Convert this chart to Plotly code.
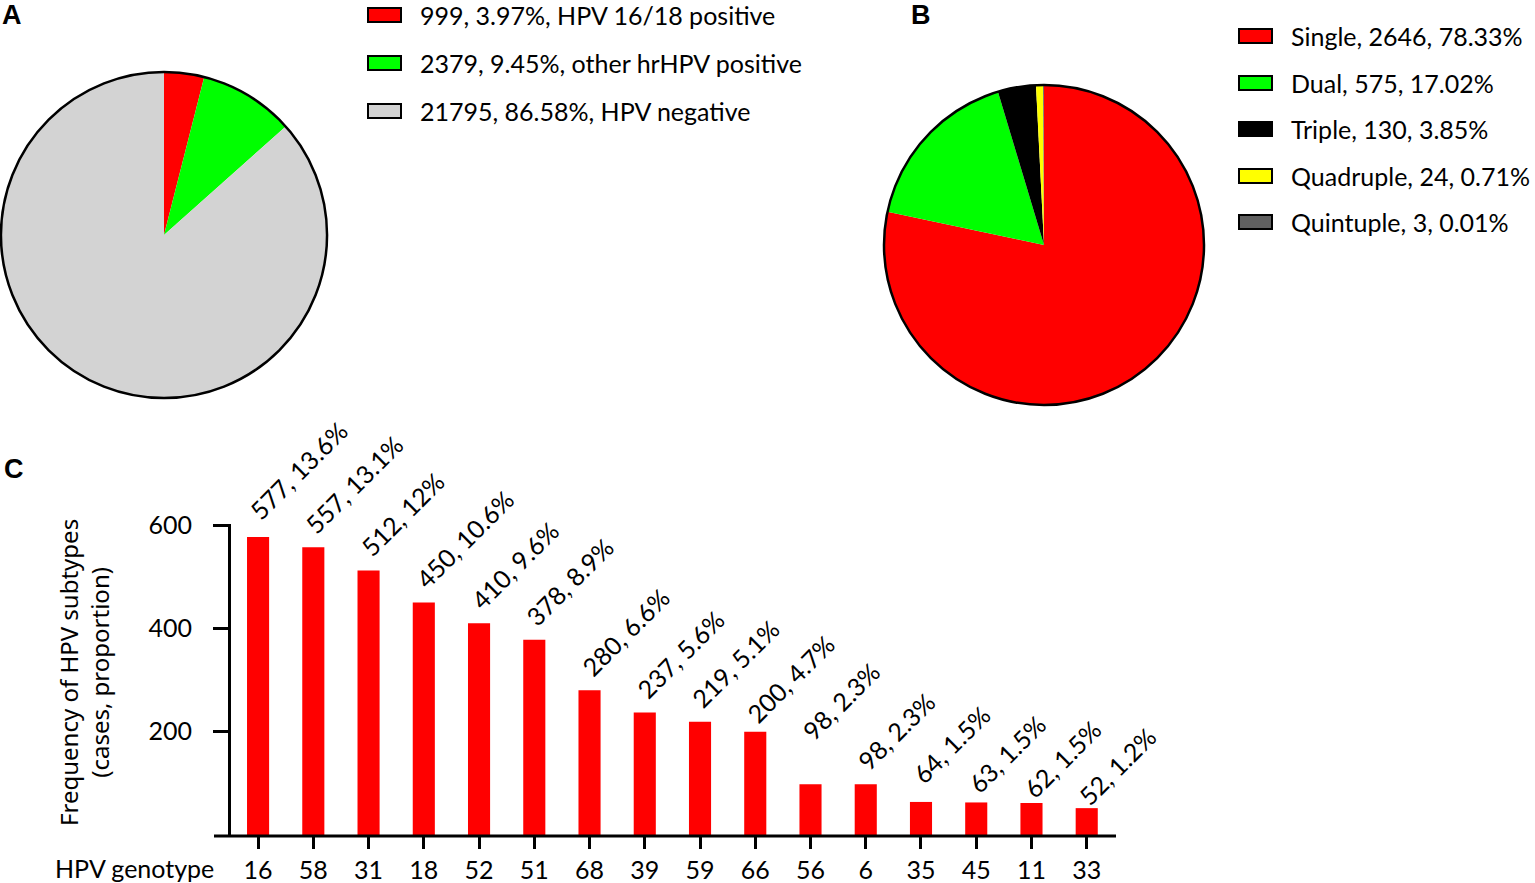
import plotly.graph_objects as go

W, H = 1535, 883

# A: HPV screening result
status_labels = ["HPV 16/18 positive", "other hrHPV positive", "HPV negative"]
status_counts = [999, 2379, 21795]
status_pct = ["3.97%", "9.45%", "86.58%"]
status_colors = ["#ff0000", "#00ff00", "#d3d3d3"]

# B: number of genotypes per infection
infection_types = ["Single", "Dual", "Triple", "Quadruple", "Quintuple"]
infection_counts = [2646, 575, 130, 24, 3]
infection_pct = ["78.33%", "17.02%", "3.85%", "0.71%", "0.01%"]
infection_colors = ["#ff0000", "#00ff00", "#000000", "#ffff00", "#606060"]

# C: genotype frequencies
genotypes = ["16", "58", "31", "18", "52", "51", "68", "39",
             "59", "66", "56", "6", "35", "45", "11", "33"]
genotype_counts = [577, 557, 512, 450, 410, 378, 280, 237,
                   219, 200, 98, 98, 64, 63, 62, 52]
genotype_pct = ["13.6%", "13.1%", "12%", "10.6%", "9.6%", "8.9%", "6.6%", "5.6%",
                "5.1%", "4.7%", "2.3%", "2.3%", "1.5%", "1.5%", "1.5%", "1.2%"]

TEXT_FONT = "Lato"
FS = 25

# hand nudges (px) for bar labels, as placed in the original figure
label_lift = {"16": 3, "56": 30, "35": 5, "66": -5, "45": -5, "11": -9, "33": -11}


def px(x):
    return x / W


def py(y):
    return 1 - y / H


fig = go.Figure()

# pies (no edges between slices), then a transparent one-slice pie for the outline
pie_a = dict(x=[px(1), px(327)], y=[py(398), py(72)])
pie_b = dict(x=[px(884), px(1204)], y=[py(405), py(85)])

fig.add_trace(go.Pie(labels=status_labels, values=status_counts, domain=pie_a,
                     marker=dict(colors=status_colors, line=dict(width=0)),
                     sort=False, direction="clockwise", rotation=0,
                     textinfo="none", hoverinfo="label+value+percent", showlegend=False))
fig.add_trace(go.Pie(labels=infection_types, values=infection_counts, domain=pie_b,
                     marker=dict(colors=infection_colors, line=dict(width=0)),
                     sort=False, direction="clockwise", rotation=0,
                     textinfo="none", hoverinfo="label+value+percent", showlegend=False))
for dom in (pie_a, pie_b):
    fig.add_trace(go.Pie(labels=["outline"], values=[1], domain=dom,
                         marker=dict(colors=["rgba(0,0,0,0)"], line=dict(color="black", width=2.5)),
                         textinfo="none", hoverinfo="skip", showlegend=False))

# bar chart
fig.add_trace(go.Bar(x=genotypes, y=genotype_counts, width=0.4,
                     marker=dict(color="#ff0000", line=dict(width=0)),
                     showlegend=False))

annotations = []
shapes = []

# bar labels (x given as category index)
for i, (g, c, p) in enumerate(zip(genotypes, genotype_counts, genotype_pct)):
    annotations.append(dict(x=i, y=c, xref="x", yref="y", text=f"{c}, {p}",
                            textangle=-45, xanchor="left", yanchor="bottom",
                            xshift=-17, yshift=6 + label_lift.get(g, 0), showarrow=False,
                            font=dict(family=TEXT_FONT, size=FS, color="black")))

# legends drawn as boxes + text
def legend(x_box, y_centers, colors, texts, x_text):
    for yc, col, t in zip(y_centers, colors, texts):
        shapes.append(dict(type="rect", xref="paper", yref="paper",
                           x0=px(x_box), x1=px(x_box + 33), y0=py(yc + 7), y1=py(yc - 7),
                           fillcolor=col, line=dict(color="black", width=2)))
        annotations.append(dict(x=px(x_text), y=py(yc), xref="paper", yref="paper",
                                text=t, xanchor="left", yanchor="middle", showarrow=False,
                                font=dict(family=TEXT_FONT, size=FS, color="black")))


legend(368, [15, 63, 111], status_colors,
       [f"{c}, {p}, {l}" for c, p, l in zip(status_counts, status_pct, status_labels)], 418)
legend(1239, [36, 83, 129, 176, 222], infection_colors,
       [f"{l}, {c}, {p}" for l, c, p in zip(infection_types, infection_counts, infection_pct)], 1289)

# panel letters
for letter, x, y in (("A", 12, 15), ("B", 921, 15), ("C", 14, 469)):
    annotations.append(dict(x=px(x), y=py(y), xref="paper", yref="paper", text=f"<b>{letter}</b>",
                            showarrow=False, xanchor="center", yanchor="middle",
                            font=dict(family="Liberation Sans", size=27, color="black")))

# axis titles for C
annotations.append(dict(x=px(84), y=py(673), xref="paper", yref="paper",
                        text="Frequency of HPV subtypes<br>(cases, proportion)",
                        textangle=-90, showarrow=False, xanchor="center", yanchor="middle",
                        font=dict(family="Noto Sans", size=24, color="black")))
annotations.append(dict(x=px(216), y=py(868), xref="paper", yref="paper", text="HPV genotype",
                        showarrow=False, xanchor="right", yanchor="middle",
                        font=dict(family=TEXT_FONT, size=FS, color="black")))

# x axis line runs a little past the y axis on the left
shapes.append(dict(type="line", xref="paper", yref="paper",
                   x0=px(214), x1=px(1116), y0=py(836), y1=py(836),
                   line=dict(color="black", width=3)))

fig.update_layout(
    width=W, height=H,
    margin=dict(l=0, r=0, t=0, b=0, autoexpand=False),
    paper_bgcolor="white", plot_bgcolor="white",
    xaxis=dict(domain=[px(231), px(1116)], type="category", range=[-0.49, 15.53],
               showline=False, showgrid=False, zeroline=False, automargin=False,
               ticks="outside", ticklen=13, tickwidth=3, tickcolor="black",
               tickfont=dict(family=TEXT_FONT, size=FS, color="black"),
               ticklabelstandoff=0),
    yaxis=dict(domain=[py(835), py(524)], range=[0, 602], automargin=False,
               showline=True, linewidth=3, linecolor="black",
               showgrid=False, zeroline=False,
               tickvals=[200, 400, 600], ticks="outside", ticklen=15, tickwidth=3,
               tickcolor="black", tickfont=dict(family=TEXT_FONT, size=FS, color="black"),
               ticklabelstandoff=16),
    annotations=annotations,
    shapes=shapes,
)

fig.write_html("out.html", config={"displayModeBar": False},
               post_script="document.body.style.margin='0';document.body.style.overflow='hidden';")
